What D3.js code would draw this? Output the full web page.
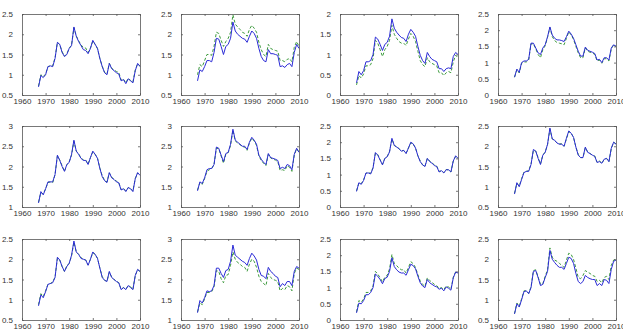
<!DOCTYPE html>
<html><head><meta charset="utf-8">
<script src="https://cdn.jsdelivr.net/npm/d3@7"></script>
<style>html,body{margin:0;padding:0;background:#fff;overflow:hidden}svg{display:block}</style>
</head><body>
<svg id="c" width="623" height="335"></svg>
<script>
const years = [1967,1968,1969,1970,1971,1972,1973,1974,1975,1976,1977,1978,1979,1980,1981,1982,1983,1984,1985,1986,1987,1988,1989,1990,1991,1992,1993,1994,1995,1996,1997,1998,1999,2000,2001,2002,2003,2004,2005,2006,2007,2008,2009,2010];
const xTicks = [1960,1970,1980,1990,2000,2010];
const yDomains = [[0.5,2.5],[0.5,2.5],[0,2],[0,2.5],[1,3],[1,3],[0,2.5],[0.5,2.5],[0.5,2.5],[1,3],[0,2.5],[0.5,2.5]];
const yTicks = [
  [0.5,1,1.5,2,2.5],[0.5,1,1.5,2,2.5],[0,0.5,1,1.5,2],[0,0.5,1,1.5,2,2.5],
  [1,1.5,2,2.5,3],[1,1.5,2,2.5,3],[0,0.5,1,1.5,2,2.5],[0.5,1,1.5,2,2.5],
  [0.5,1,1.5,2,2.5],[1,1.5,2,2.5,3],[0,0.5,1,1.5,2,2.5],[0.5,1,1.5,2,2.5]
];
const blue1 = [0.70,0.98,0.93,1.00,1.20,1.22,1.20,1.40,1.80,1.75,1.55,1.45,1.50,1.65,1.72,2.18,1.95,1.82,1.72,1.62,1.60,1.52,1.65,1.85,1.75,1.65,1.40,1.20,1.05,1.00,1.28,1.15,1.10,1.05,1.02,0.85,0.88,0.78,0.90,0.85,0.80,1.10,1.28,1.20];
const green1 = [0.72,1.00,0.95,1.02,1.20,1.22,1.22,1.42,1.80,1.74,1.57,1.46,1.52,1.65,1.74,2.16,1.96,1.84,1.74,1.67,1.66,1.55,1.66,1.83,1.75,1.64,1.40,1.21,1.06,1.02,1.28,1.16,1.12,1.08,1.06,0.87,0.89,0.80,0.91,0.86,0.82,1.12,1.27,1.22];
const blue2 = [0.85,1.12,1.08,1.20,1.35,1.35,1.32,1.55,1.90,1.88,1.70,1.50,1.70,1.75,1.90,2.30,2.08,2.00,1.95,1.90,1.88,1.80,1.95,2.08,2.02,1.90,1.65,1.45,1.35,1.32,1.62,1.52,1.52,1.50,1.48,1.20,1.22,1.18,1.25,1.28,1.20,1.55,1.75,1.65];
const green2 = [1.00,1.25,1.20,1.35,1.50,1.50,1.48,1.70,2.05,2.02,1.85,1.70,1.82,1.90,2.05,2.48,2.25,2.18,2.12,2.05,2.02,1.95,2.12,2.22,2.15,2.05,1.80,1.62,1.50,1.45,1.75,1.65,1.62,1.60,1.58,1.35,1.35,1.32,1.38,1.40,1.32,1.68,1.82,1.70];
const blue3 = [0.30,0.58,0.50,0.60,0.82,0.82,0.85,1.00,1.43,1.38,1.25,1.10,1.25,1.30,1.45,1.88,1.65,1.55,1.48,1.42,1.40,1.32,1.50,1.62,1.55,1.45,1.20,0.98,0.85,0.78,1.05,0.95,0.88,0.85,0.82,0.65,0.65,0.58,0.65,0.67,0.65,0.95,1.05,1.00];
const green3 = [0.25,0.48,0.42,0.52,0.72,0.72,0.75,0.90,1.35,1.28,1.12,0.95,1.12,1.20,1.35,1.72,1.50,1.40,1.32,1.28,1.28,1.22,1.38,1.52,1.45,1.32,1.08,0.85,0.75,0.70,0.92,0.82,0.78,0.75,0.72,0.55,0.55,0.48,0.55,0.58,0.55,0.82,0.98,0.92];
const blue4 = [0.55,0.80,0.70,1.00,1.05,1.05,1.10,1.60,1.60,1.45,1.30,1.25,1.45,1.55,1.80,2.10,1.85,1.75,1.70,1.70,1.68,1.65,1.80,1.97,1.88,1.75,1.55,1.35,1.20,1.20,1.48,1.38,1.35,1.32,1.28,1.08,1.10,1.00,1.15,1.15,1.08,1.45,1.55,1.50];
const green4 = [0.55,0.78,0.68,0.98,1.02,1.02,1.08,1.58,1.58,1.42,1.25,1.15,1.40,1.52,1.78,2.08,1.80,1.68,1.62,1.60,1.58,1.55,1.75,1.95,1.85,1.72,1.50,1.30,1.15,1.15,1.45,1.35,1.32,1.30,1.25,1.05,1.08,0.98,1.12,1.12,1.05,1.42,1.55,1.50];
const blue5 = [1.10,1.38,1.30,1.45,1.62,1.62,1.62,1.80,2.28,2.15,2.00,1.88,2.05,2.10,2.30,2.65,2.38,2.30,2.20,2.15,2.15,2.05,2.22,2.38,2.30,2.20,1.95,1.75,1.65,1.60,1.85,1.72,1.68,1.62,1.60,1.42,1.45,1.38,1.48,1.45,1.38,1.70,1.85,1.78];
const green5 = [1.12,1.36,1.32,1.45,1.60,1.62,1.60,1.80,2.26,2.16,2.02,1.88,2.04,2.12,2.28,2.62,2.38,2.31,2.22,2.16,2.16,2.06,2.22,2.36,2.30,2.20,1.96,1.77,1.66,1.62,1.84,1.74,1.68,1.64,1.60,1.43,1.46,1.40,1.48,1.46,1.40,1.70,1.84,1.78];
const blue6 = [1.40,1.62,1.58,1.72,1.92,1.95,1.95,2.05,2.48,2.45,2.28,2.12,2.32,2.35,2.55,2.92,2.65,2.60,2.55,2.50,2.50,2.42,2.60,2.72,2.65,2.55,2.28,2.18,2.10,2.05,2.32,2.22,2.20,2.18,2.15,1.95,1.98,1.95,2.05,2.02,1.92,2.30,2.45,2.35];
const green6 = [1.42,1.60,1.56,1.70,1.88,1.92,1.95,2.05,2.45,2.44,2.26,2.08,2.30,2.34,2.52,2.90,2.63,2.58,2.54,2.49,2.48,2.40,2.58,2.70,2.63,2.52,2.26,2.15,2.08,2.02,2.30,2.21,2.18,2.16,2.12,1.90,1.92,1.90,2.02,1.98,1.88,2.28,2.44,2.35];
const blue7 = [0.48,0.75,0.70,0.82,1.05,1.05,1.02,1.20,1.68,1.60,1.45,1.30,1.50,1.55,1.70,2.12,1.90,1.85,1.80,1.72,1.75,1.65,1.82,2.00,1.95,1.82,1.58,1.40,1.30,1.25,1.50,1.40,1.35,1.28,1.25,1.08,1.12,1.05,1.15,1.15,1.08,1.42,1.58,1.50];
const green7 = [0.50,0.74,0.72,0.84,1.04,1.06,1.04,1.22,1.66,1.62,1.46,1.32,1.50,1.56,1.72,2.10,1.90,1.86,1.80,1.74,1.74,1.66,1.82,1.98,1.94,1.82,1.58,1.42,1.30,1.26,1.50,1.42,1.36,1.30,1.26,1.10,1.12,1.06,1.16,1.14,1.08,1.42,1.56,1.50];
const blue8 = [0.82,1.10,1.00,1.18,1.35,1.38,1.38,1.55,1.92,1.88,1.70,1.55,1.78,1.85,2.05,2.45,2.18,2.15,2.08,2.05,2.05,2.00,2.20,2.38,2.32,2.22,1.98,1.78,1.72,1.72,1.98,1.85,1.82,1.78,1.75,1.60,1.62,1.58,1.68,1.70,1.62,1.95,2.10,2.05];
const green8 = [0.84,1.08,1.02,1.20,1.36,1.38,1.40,1.56,1.90,1.88,1.72,1.56,1.78,1.86,2.04,2.42,2.18,2.14,2.08,2.06,2.06,2.00,2.18,2.36,2.32,2.22,1.98,1.80,1.72,1.72,1.96,1.86,1.82,1.78,1.76,1.60,1.64,1.58,1.68,1.70,1.62,1.94,2.10,2.06];
const blue9 = [0.85,1.12,1.05,1.20,1.38,1.40,1.42,1.55,2.05,1.98,1.82,1.70,1.82,1.90,2.10,2.45,2.18,2.12,2.02,2.00,1.98,1.85,2.00,2.18,2.12,2.02,1.78,1.55,1.48,1.45,1.70,1.55,1.50,1.45,1.42,1.25,1.30,1.25,1.35,1.30,1.25,1.60,1.75,1.70];
const green9 = [0.88,1.15,1.08,1.22,1.38,1.40,1.44,1.56,2.02,1.98,1.82,1.70,1.84,1.90,2.08,2.42,2.18,2.12,2.04,2.00,1.98,1.86,2.00,2.16,2.12,2.02,1.78,1.57,1.48,1.46,1.68,1.56,1.50,1.46,1.42,1.26,1.30,1.26,1.35,1.32,1.26,1.60,1.74,1.70];
const blue10 = [1.18,1.48,1.42,1.55,1.72,1.70,1.72,1.85,2.28,2.28,2.15,2.05,2.22,2.25,2.45,2.85,2.60,2.55,2.50,2.45,2.42,2.35,2.52,2.65,2.58,2.48,2.25,2.10,2.08,2.02,2.30,2.20,2.15,2.08,2.05,1.82,1.90,1.85,1.95,1.95,1.85,2.20,2.32,2.28];
const green10 = [1.20,1.42,1.38,1.52,1.68,1.68,1.70,1.82,2.22,2.20,2.02,1.92,2.10,2.12,2.35,2.68,2.50,2.42,2.38,2.32,2.30,2.20,2.38,2.50,2.45,2.30,2.08,1.95,1.90,1.85,2.15,2.05,2.00,1.98,1.95,1.72,1.78,1.75,1.85,1.82,1.72,2.15,2.28,2.25];
const blue11 = [0.22,0.52,0.50,0.60,0.78,0.78,0.85,1.00,1.42,1.35,1.25,1.12,1.28,1.32,1.50,1.92,1.65,1.55,1.48,1.45,1.45,1.38,1.55,1.72,1.68,1.58,1.35,1.15,1.05,1.00,1.25,1.15,1.10,1.05,1.02,0.95,0.98,0.90,1.02,0.98,0.92,1.30,1.48,1.45];
const green11 = [0.25,0.60,0.55,0.65,0.85,0.85,0.90,1.05,1.50,1.42,1.30,1.18,1.32,1.38,1.58,2.02,1.75,1.68,1.60,1.55,1.55,1.45,1.62,1.80,1.74,1.62,1.40,1.20,1.10,1.04,1.30,1.22,1.16,1.10,1.06,0.98,1.00,0.94,1.05,1.02,0.95,1.32,1.48,1.45];
const blue12 = [0.65,0.90,0.82,1.00,1.20,1.22,1.15,1.30,1.70,1.72,1.55,1.35,1.38,1.55,1.70,2.22,2.00,1.92,1.85,1.80,1.80,1.75,1.90,2.05,2.02,1.90,1.65,1.45,1.40,1.45,1.60,1.55,1.52,1.50,1.50,1.35,1.40,1.35,1.50,1.48,1.40,1.75,1.95,1.98];
const green12 = [0.66,0.92,0.84,1.02,1.22,1.22,1.16,1.32,1.72,1.74,1.56,1.38,1.40,1.58,1.74,2.28,2.05,1.98,1.95,1.90,1.85,1.80,1.98,2.15,2.12,2.00,1.78,1.55,1.52,1.60,1.72,1.68,1.65,1.60,1.58,1.45,1.48,1.42,1.55,1.58,1.50,1.85,1.98,2.00];

const blueSeries = [blue1,blue2,blue3,blue4,blue5,blue6,blue7,blue8,blue9,blue10,blue11,blue12];
const greenSeries = [green1,green2,green3,green4,green5,green6,green7,green8,green9,green10,green11,green12];

const svg = d3.select("#c");
const colLeft = [22, 181, 340, 498];
const plotW = 118;
const rowTop = [14, 126, 239];
const plotH = 81;
const font = "Liberation Sans, Arial, sans-serif";

for (let i = 0; i < 12; i++) {
  const r = Math.floor(i / 4), c = i % 4;
  const g = svg.append("g").attr("transform", `translate(${colLeft[c]},${rowTop[r]})`);
  const x = d3.scaleLinear().domain([1960, 2010]).range([0, plotW]);
  const y = d3.scaleLinear().domain(yDomains[i]).range([plotH, 0]);

  const line = d3.line().x((d, k) => x(years[k])).y(d => y(d));
  g.append("path").datum(greenSeries[i]).attr("d", line)
    .attr("fill", "none").attr("stroke", "#3c9a3c").attr("stroke-width", 1).attr("stroke-dasharray", "3,2");
  g.append("path").datum(blueSeries[i]).attr("d", line)
    .attr("fill", "none").attr("stroke", "#2b2bd6").attr("stroke-width", 1);

  const fmt = v => String(v);
  const axB = g.append("g").attr("transform", `translate(0,${plotH})`)
    .call(d3.axisBottom(x).tickValues(xTicks).tickFormat(fmt).tickSizeInner(-2).tickSizeOuter(0).tickPadding(3));
  const axT = g.append("g")
    .call(d3.axisTop(x).tickValues(xTicks).tickFormat("").tickSizeInner(-2).tickSizeOuter(0));
  const axL = g.append("g")
    .call(d3.axisLeft(y).tickValues(yTicks[i]).tickFormat(fmt).tickSizeInner(-2).tickSizeOuter(0).tickPadding(9));
  const axR = g.append("g").attr("transform", `translate(${plotW},0)`)
    .call(d3.axisRight(y).tickValues(yTicks[i]).tickFormat("").tickSizeInner(-2).tickSizeOuter(0));
  [axB, axT, axL, axR].forEach(a => {
    a.selectAll("path,line").attr("stroke", "#555").attr("stroke-width", 0.8);
    a.selectAll("text").attr("font-family", font).attr("font-size", 8).attr("fill", "#333");
  });
}
</script>
</body></html>
